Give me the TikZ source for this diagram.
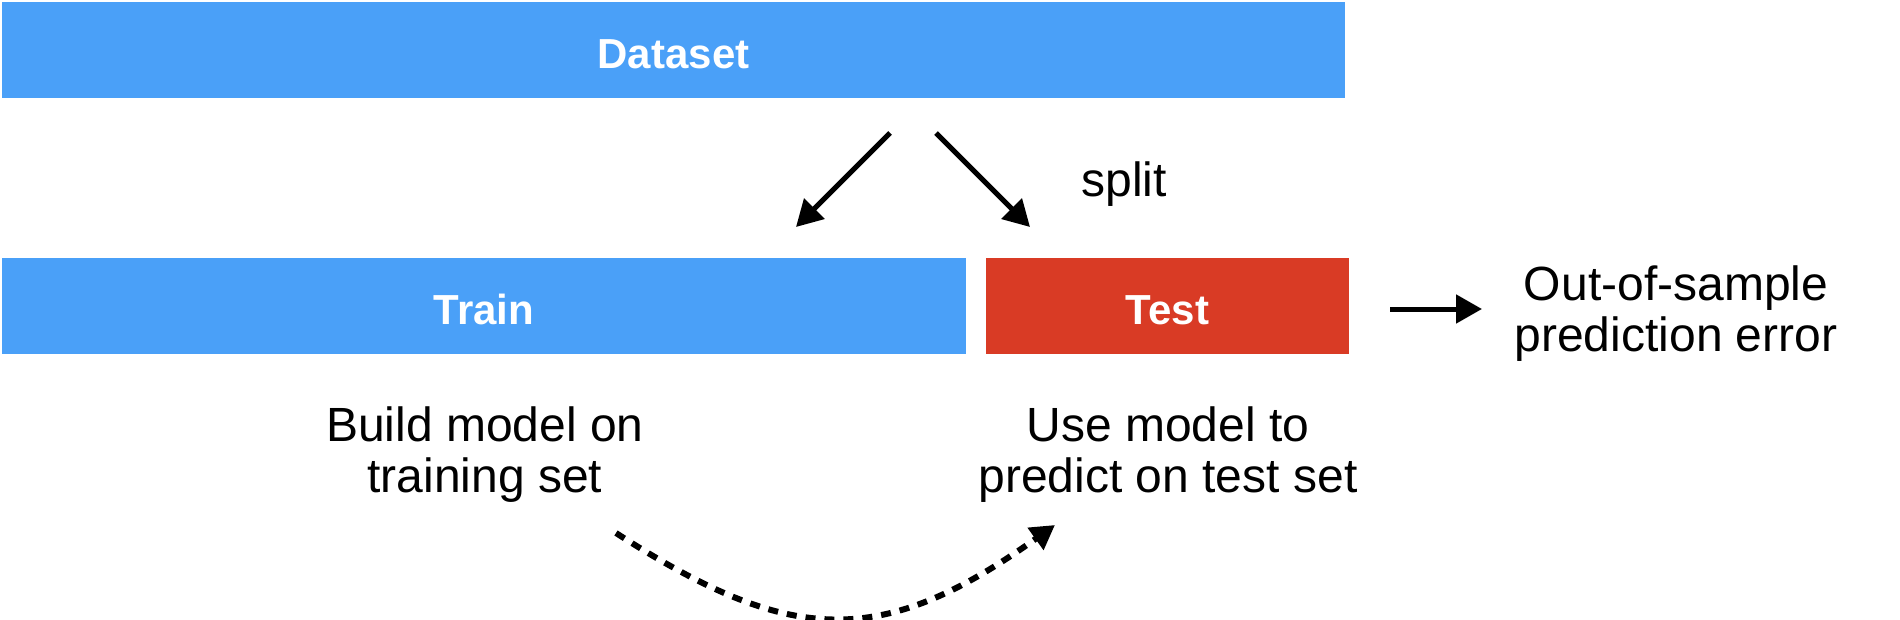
\documentclass[tikz,border=0pt]{standalone}
\usepackage{fontspec}
\setmainfont{Liberation Sans}
\usetikzlibrary{arrows.meta}
\definecolor{barblue}{RGB}{74,160,248}
\definecolor{barred}{RGB}{217,59,37}
\tikzset{
    bar/.style={fill=#1, text=white, inner sep=0pt, minimum height=48pt,
        text height=18pt, text depth=0pt,
        font=\fontsize{21}{24}\selectfont\bfseries},
    note/.style={align=center, font=\fontsize{24}{25.5}\selectfont},
    bigarrow/.style={line width=2.5pt, -{Triangle[length=13pt,width=14pt]}}
}
\begin{document}
\begin{tikzpicture}[x=0.5pt, y=-0.5pt]
    \useasboundingbox (0,0) rectangle (1900,620);

    % Bars
    \node[bar=barblue, minimum width=671.5pt] (dataset) at (673.5,50.5) {Dataset};
    \node[bar=barblue, minimum width=482pt] (train) at (484,306) {Train};
    \node[bar=barred, minimum width=181.5pt] (test) at (1167.5,306) {Test};

    % Split
    \coordinate (splitl) at (890,133);
    \coordinate (splitr) at (936,133);
    \coordinate (trainin) at (796,227);
    \coordinate (testin) at (1030,227);
    \draw[bigarrow] (splitl) -- (trainin);
    \draw[bigarrow] (splitr) -- (testin);
    \node[note] (split) at (1124,184) {split};

    % Error
    \node[note] (error) at (1676,314) {Out-of-sample\\prediction error};
    \coordinate (testout) at (1390,309);
    \coordinate (errorin) at (1482,309);
    \draw[bigarrow] (testout) -- (errorin);

    % Notes
    \node[note] (build) at (485,455) {Build model on\\training set};
    \node[note] (use) at (1168,455) {Use model to\\predict on test set};
    \coordinate (buildout) at (616,533);
    \coordinate (usein) at (1055,525);
    \draw[line width=3pt, dash pattern=on 5pt off 4.5pt, -{Triangle[length=12pt,width=13pt]}]
        (buildout) .. controls (790,645) and (880,650) .. (usein);
\end{tikzpicture}
\end{document}
